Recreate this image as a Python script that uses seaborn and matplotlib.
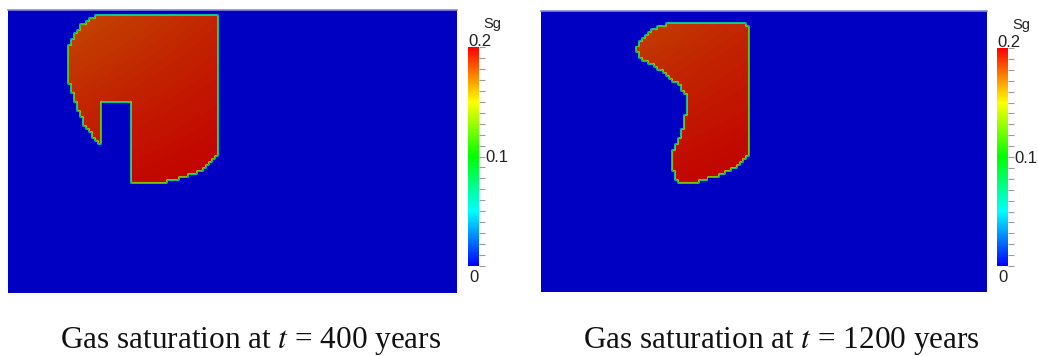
import numpy as np
import matplotlib
matplotlib.use("Agg")
import matplotlib.pyplot as plt
from matplotlib.colors import LinearSegmentedColormap, Normalize
from matplotlib.cm import ScalarMappable
from matplotlib.path import Path
from matplotlib.ticker import MultipleLocator, FixedLocator, FixedFormatter
import seaborn as sns

sns.set_theme(style="white")
plt.rcParams["font.family"] = ["Liberation Sans", "DejaVu Sans"]
plt.rcParams["mathtext.fontset"] = "stix"

# Simulation grid (cells across, cells down)
NX, NY = 150, 95
REFINE = 3

# Saturation colour scale
SG_MIN, SG_MAX = 0.0, 0.2
SG_TICK_STEP = 0.01

# Plume outline at t = 400 years (grid-cell units, depth downwards)
plume400_x = [31.7, 70.2, 70.2, 67.5, 64.2, 60.8, 57.5, 53.1, 41.4, 41.4,
              31.4, 31.4, 30.7, 29.7, 28.4, 27.4, 25.7, 24.7, 23.0, 21.4,
              20.0, 19.7, 19.7, 20.7, 22.4, 24.7, 27.4]
plume400_y = [1.5, 1.5, 48.7, 51.4, 53.8, 55.4, 56.4, 57.5, 57.5, 31.0,
              31.0, 44.7, 44.7, 44.4, 42.7, 41.0, 39.4, 36.3, 32.7, 28.0,
              23.6, 19.3, 15.2, 11.2, 7.9, 5.2, 3.2]
# Saturation inside the plume: top-left, top-right, bottom-left, bottom-right
plume400_sg = [0.181, 0.190, 0.196, 0.200]

# Plume outline at t = 1200 years
plume1200_x = [43.4, 68.6, 69.6, 70.3, 70.3, 67.6, 64.2, 60.2, 56.2, 52.8,
               45.7, 45.1, 44.1, 44.1, 45.1, 46.1, 47.4, 48.1, 48.8, 49.1,
               48.4, 46.7, 45.1, 42.7, 40.0, 37.3, 34.3, 32.6, 32.3, 32.6,
               34.3, 36.7, 40.0]
plume1200_y = [4.2, 4.2, 5.1, 6.4, 48.7, 51.4, 53.7, 55.4, 56.4, 57.5,
               57.5, 56.1, 52.7, 47.7, 46.0, 43.6, 40.2, 36.8, 33.5, 30.8,
               27.7, 25.7, 24.0, 22.3, 19.9, 18.3, 16.6, 14.9, 13.2, 10.8,
               8.7, 6.7, 5.1]
plume1200_sg = [0.184, 0.190, 0.197, 0.200]

titles = ["Gas saturation at $t$ = 400 years", "Gas saturation at $t$ = 1200 years"]
cbar_name = "Sg"

# Blue -> cyan -> green -> yellow -> red rainbow
rainbow = [(0, 0, 1), (0, 1, 1), (0, 1, 0), (1, 1, 0), (1, 0, 0)]
cmap_bar = LinearSegmentedColormap.from_list("sg_rainbow", rainbow)
shade = 0.76
cmap_field = LinearSegmentedColormap.from_list(
    "sg_rainbow_lit", [tuple(c * shade for c in col) for col in rainbow])


def saturation_field(px, py, corners):
    """Cell-wise saturation on the simulation grid, refined and softened at the front."""
    xc, yc = np.meshgrid(np.arange(NX) + 0.5, np.arange(NY) + 0.5)
    inside = Path(np.column_stack([px, py])).contains_points(
        np.column_stack([xc.ravel(), yc.ravel()])).reshape(NY, NX)
    x0, x1, y0, y1 = min(px), max(px), min(py), max(py)
    u = np.clip((xc - x0) / (x1 - x0), 0, 1)
    v = np.clip((yc - y0) / (y1 - y0), 0, 1)
    tl, tr, bl, br = corners
    sg = (tl * (1 - u) * (1 - v) + tr * u * (1 - v) + bl * (1 - u) * v + br * u * v)
    coarse = np.where(inside, sg, 0.0)
    fine = np.kron(coarse, np.ones((REFINE, REFINE)))
    pad = np.pad(fine, 1, mode="edge")
    smooth = sum(pad[1 + dy:1 + dy + fine.shape[0], 1 + dx:1 + dx + fine.shape[1]]
                 for dy in (-1, 0, 1) for dx in (-1, 0, 1)) / 9.0
    return smooth


fields = [saturation_field(plume400_x, plume400_y, plume400_sg),
          saturation_field(plume1200_x, plume1200_y, plume1200_sg)]

W, H = 1038, 356
fig = plt.figure(figsize=(W / 100, H / 100), dpi=100)


def box(x, y, w, h):
    return [x / W, 1 - (y + h) / H, w / W, h / H]


panel_boxes = [box(8, 9.5, 449, 283.5), box(541, 11, 446, 281)]
cbar_boxes = [box(468, 47, 11, 219), box(997, 48, 11, 218)]
title_x = [251, 781]

for field, pbox, cbox, title, tx in zip(fields, panel_boxes, cbar_boxes, titles, title_x):
    ax = fig.add_axes(pbox)
    sns.heatmap(field, ax=ax, cmap=cmap_field, vmin=SG_MIN, vmax=SG_MAX,
                cbar=False, xticklabels=False, yticklabels=False, rasterized=True)
    for name, sp in ax.spines.items():
        sp.set_visible(name == "top")
    ax.spines["top"].set_color("#8a8ad8")
    ax.spines["top"].set_linewidth(1.2)

    cax = fig.add_axes(cbox)
    cb = fig.colorbar(ScalarMappable(norm=Normalize(SG_MIN, SG_MAX), cmap=cmap_bar), cax=cax)
    cb.outline.set_visible(False)
    cax.yaxis.set_major_locator(FixedLocator([0.1]))
    cax.yaxis.set_major_formatter(FixedFormatter(["0.1"]))
    cax.yaxis.set_minor_locator(MultipleLocator(SG_TICK_STEP))
    cax.tick_params(axis="y", which="major", length=4.5, width=0.8, color="#9a9a9a",
                    labelsize=12, labelcolor="#222222", pad=0)
    cax.tick_params(axis="y", which="minor", length=4, width=0.8, color="#9a9a9a")
    cax.text(0.0, 1.025, f"{SG_MAX:.1f}", transform=cax.transAxes, ha="left", va="center",
             fontsize=12, color="#222222")
    cax.text(0.1, -0.02, f"{SG_MIN:g}", transform=cax.transAxes, ha="left", va="top",
             fontsize=12, color="#222222")
    cax.text(1.35, 1.075, cbar_name, transform=cax.transAxes, ha="left", va="bottom",
             fontsize=10.5, color="#222222")

    fig.text(tx / W, (H - 348) / H, title, ha="center", va="baseline",
             fontsize=22.5, family=["Liberation Serif"], color="#111111")

fig.savefig("out.png", dpi=100)
